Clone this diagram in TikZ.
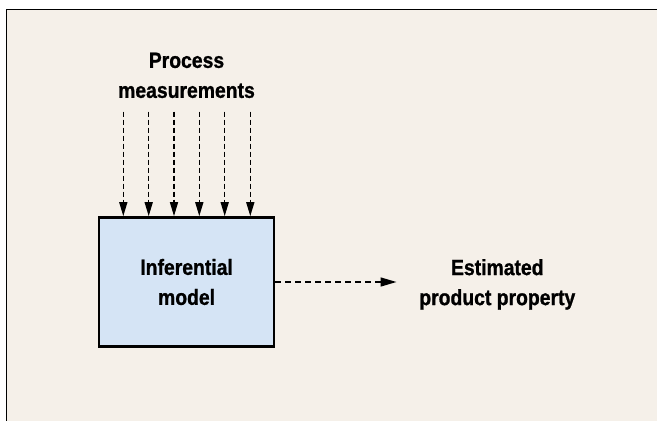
\documentclass[tikz,border=0pt]{standalone}
\usepackage{fontspec}
\newfontfamily\lblfont{Liberation Sans}[FakeStretch=0.88, BoldFeatures={FakeBold=1}]
\usetikzlibrary{arrows.meta}
\definecolor{bgbeige}{HTML}{F5F0E9}
\definecolor{boxblue}{HTML}{D5E4F5}
\tikzset{
  lbl/.style={font=\lblfont\bfseries\fontsize{22pt}{30pt}\selectfont, align=center, inner sep=0pt, text=black},
  modelbox/.style={draw=black, line width=2.7pt, fill=boxblue, minimum width=175pt, minimum height=129pt, inner sep=0pt},
  inarrow/.style={line width=1.5pt, dash pattern=on 5pt off 3pt, -{Triangle[length=14pt,width=8pt]}},
  outarrow/.style={line width=1.5pt, dash pattern=on 6pt off 4pt, -{Triangle[length=16pt,width=9pt]}}
}
\begin{document}
\begin{tikzpicture}[x=1pt,y=-1pt]
\useasboundingbox (0,0) rectangle (657,421);
\fill[white] (0,0) rectangle (657,421);
\fill[bgbeige] (6.8,9.8) rectangle (657,421);
\draw[line width=1.3pt, black] (6.8,421) -- (6.8,9.8) -- (657,9.8);
\node[modelbox, lbl] (box) at (186.6,282) {Inferential\\model};
\node[lbl] (meas) at (186.5,75.4) {Process\\measurements};
\node[lbl] (est) at (497.3,284.4) {Estimated\\product property};
\foreach \i/\x in {1/123.3,2/148.7,3/174.0,4/199.3,5/224.7,6/250.3}{
  \coordinate (s\i) at (\x,111.7);
  \draw[inarrow] (s\i) -- (s\i |- box.north);
}
\coordinate (outend) at (396.5,282);
\draw[outarrow] (box.east) -- (outend);
\end{tikzpicture}
\end{document}
